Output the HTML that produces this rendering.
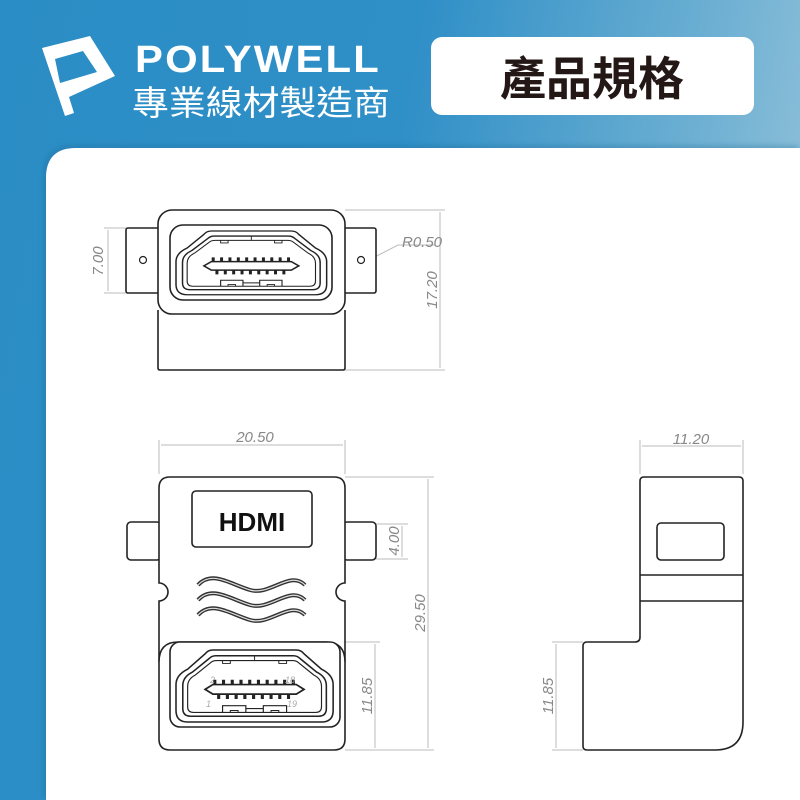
<!DOCTYPE html>
<html><head><meta charset="utf-8"><style>
html,body{margin:0;padding:0;width:800px;height:800px;overflow:hidden}
body{background:linear-gradient(100deg,#2b8dc5 0%,#2f8fc7 45%,#6aaed2 75%,#a3cadd 100%)}
svg{position:absolute;left:0;top:0}
</style></head><body>
<svg width="800" height="800" viewBox="0 0 800 800" xmlns="http://www.w3.org/2000/svg" font-family="Liberation Sans, sans-serif">
<defs>
<filter id="sh" x="-5%" y="-5%" width="110%" height="110%"><feDropShadow dx="-2" dy="-2" stdDeviation="3" flood-color="#1a5f88" flood-opacity="0.35"/></filter>
<g id="port" fill="none" stroke="#222">
<path stroke-width="1.6" d="M12,20 L30,4 Q33,0 38,0 L124,0 Q129,0 132,4 L150,20 Q162,26 162,36 L162,63 Q162,75 150,75 L12,75 Q0,75 0,63 L0,36 Q0,26 12,20 Z"/>
<path stroke-width="1.6" d="M17,23 L34,9 Q37,6 41,6 L121,6 Q125,6 128,9 L145,23 Q155,28 155,37 L155,61 Q155,69 147,69 L15,69 Q7,69 7,61 L7,37 Q7,28 17,23 Z"/>
<path stroke-width="1.2" d="M20,26 L36,13 Q38,11 42,11 L120,11 Q124,11 126,13 L142,26 Q150,30 150,38 L150,59 Q150,65 144,65 L18,65 Q12,65 12,59 L12,38 Q12,30 20,26 Z"/>
<line x1="81" y1="6" x2="81" y2="11" stroke-width="1"/>
<path stroke-width="1" d="M48,11 v3 h8 v-3 M106,11 v3 h8 v-3"/>
<path stroke-width="1.8" d="M30,41 L38,36 L124,36 L132,41 L124,46 L38,46 Z"/>
<g stroke-width="3.2">
<path d="M40,36v-5M49,36v-5M58,36v-5M67,36v-5M76,36v-5M85,36v-5M94,36v-5M103,36v-5M112,36v-5M121,36v-5"/>
<path d="M44,46v5M53,46v5M62,46v5M71,46v5M80,46v5M89,46v5M98,46v5M107,46v5M116,46v5"/>
</g>
<path stroke-width="1.2" d="M48,65 v-7 h24 v7 M90,65 v-7 h24 v7 M72,61 h18"/>
<path stroke-width="1" d="M56,65 v-2 h8 v2 M98,65 v-2 h8 v2"/>
</g>
</defs>

<!-- Logo -->
<path fill="#fff" fill-rule="evenodd" d="M42,48 L90,36 L115,76 L69,97 L74,113 L65,116 Z M55,59 L60,83 L97,72 L83,51 Z"/>
<text x="135" y="72" fill="#fff" font-size="38" font-weight="bold" letter-spacing="2" textLength="246" lengthAdjust="spacingAndGlyphs">POLYWELL</text>
<text x="132" y="115" fill="#fff" font-size="34" font-family="Liberation Sans, Noto Sans CJK TC, sans-serif" textLength="258" lengthAdjust="spacingAndGlyphs">專業線材製造商</text>
<rect x="431" y="37" width="323" height="78" rx="11" fill="#fff"/>
<text x="592" y="95" fill="#231815" font-size="46" font-weight="bold" text-anchor="middle" font-family="Liberation Sans, Noto Sans CJK TC, sans-serif">產品規格</text>

<!-- White panel -->
<path filter="url(#sh)" fill="#fff" d="M46,800 L46,178 Q46,148 76,148 L800,148 L800,800 Z"/>

<g fill="none" stroke="#bbb" stroke-width="1">
<path d="M345,210 H445 M345,370 H445 M440,212 V368 M158,228 H104 M158,293 H104 M108,230 V291 M365,262 L398,245 H435"/>
<path d="M159,474 V440 M345,474 V440 M161,445 H343 M345,477 H434 M345,750 H434 M428,479 V748 M375,524 H408 M375,559 H408 M402,526 V557 M345,642 H380 M375,644 V748"/>
<path d="M640,474 V440 M743,474 V440 M642,446 H741 M583,642 H552 M583,750 H552 M556,644 V748"/>
</g>
<g fill="#888" font-size="15" font-style="italic">
<text transform="translate(103,261) rotate(-90)" text-anchor="middle">7.00</text>
<text x="402" y="247">R0.50</text>
<text transform="translate(437,290) rotate(-90)" text-anchor="middle">17.20</text>
<text x="255" y="442" text-anchor="middle">20.50</text>
<text transform="translate(425,613) rotate(-90)" text-anchor="middle">29.50</text>
<text transform="translate(399,541) rotate(-90)" text-anchor="middle">4.00</text>
<text transform="translate(372,696) rotate(-90)" text-anchor="middle">11.85</text>
<text x="691" y="444" text-anchor="middle">11.20</text>
<text transform="translate(553,696) rotate(-90)" text-anchor="middle">11.85</text>
</g>

<g fill="#fff" stroke="#222" stroke-width="1.6">
<rect x="126" y="228" width="34" height="65" rx="2"/>
<rect x="343" y="228" width="33" height="65" rx="2"/>
<path d="M158,310 V368 Q158,370 160,370 H343 Q345,370 345,368 V310"/>
<rect x="158" y="210" width="187" height="104" rx="14"/>
<rect x="170" y="225" width="162" height="75" rx="13"/>
<circle cx="143" cy="260" r="3.5" fill="none" stroke-width="1.2"/>
<circle cx="361" cy="260" r="3.5" fill="none" stroke-width="1.2"/>
</g>
<use href="#port" transform="translate(176,231) scale(0.93,0.85)"/>

<g fill="#fff" stroke="#222" stroke-width="1.6">
<rect x="127" y="522" width="34" height="38" rx="4"/>
<rect x="343" y="522" width="33" height="38" rx="4"/>
<path d="M170,477 H334 Q345,477 345,488 V583 A9,9 0 0 0 345,601 V739 Q345,750 334,750 H170 Q159,750 159,739 V601 A9,9 0 0 0 159,583 V488 Q159,477 170,477 Z"/>
<rect x="192" y="491" width="120" height="56" rx="4"/>
<path d="M159,662 Q159,642 178,642 H326 Q345,642 345,662"/>
<rect x="170" y="642" width="170" height="85" rx="10" stroke-width="1.6"/>
</g>
<text x="252" y="531" font-size="26" font-weight="bold" text-anchor="middle" fill="#111">HDMI</text>
<g fill="none">
<g stroke="#333" stroke-width="4">
<path d="M198,585 C212,570 230,584 250,590 C270,596 290,570 305,585"/>
<path d="M198,600 C212,585 230,599 250,605 C270,611 290,585 305,600"/>
<path d="M198,615 C212,600 230,614 250,620 C270,626 290,600 305,615"/>
</g>
<g stroke="#ddd" stroke-width="1.2">
<path d="M198,585 C212,570 230,584 250,590 C270,596 290,570 305,585"/>
<path d="M198,600 C212,585 230,599 250,605 C270,611 290,585 305,600"/>
<path d="M198,615 C212,600 230,614 250,620 C270,626 290,600 305,615"/>
</g>
</g>
<use href="#port" transform="translate(176,650) scale(0.97,0.96)"/>
<g fill="#aaa" font-size="9" font-style="italic">
<text x="210" y="683">2</text><text x="285" y="683">18</text>
<text x="206" y="707">1</text><text x="287" y="707">19</text>
</g>

<g fill="#fff" stroke="#222" stroke-width="1.6">
<path d="M644,477 H739 Q743,477 743,481 V722 Q743,750 715,750 H587 Q583,750 583,746 V646 Q583,642 587,642 H635 Q640,642 640,637 V481 Q640,477 644,477 Z"/>
<line x1="640" y1="575" x2="743" y2="575"/>
<line x1="640" y1="601" x2="743" y2="601"/>
<rect x="657" y="523" width="67" height="37" rx="4"/>
</g>
</svg>
</body></html>
